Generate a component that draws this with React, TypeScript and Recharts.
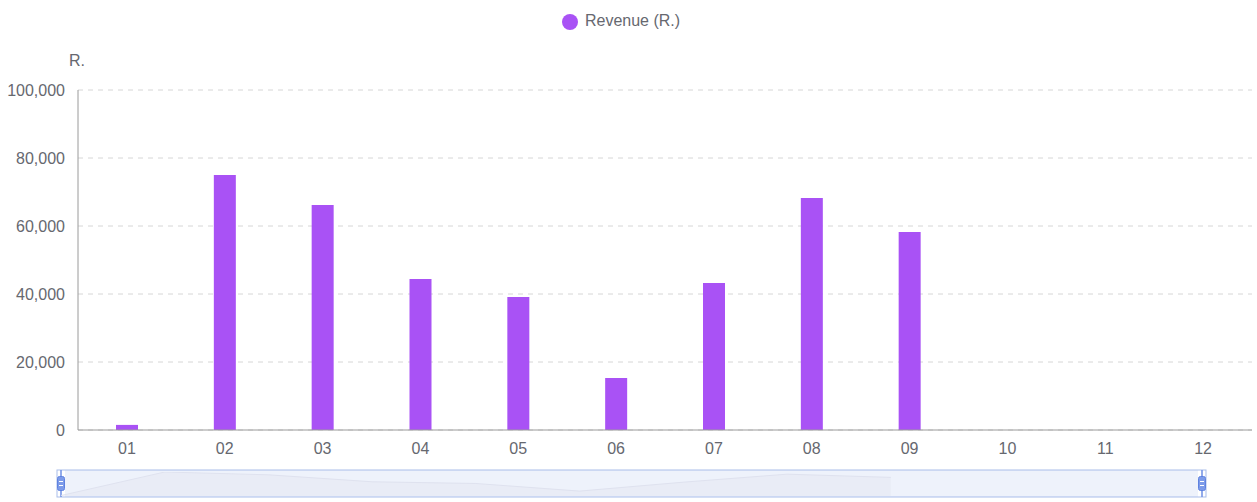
import React from "react";
import {
  BarChart,
  Bar,
  XAxis,
  YAxis,
  CartesianGrid,
  Legend,
  Brush,
  AreaChart,
  Area,
} from "recharts";

const months = ["01", "02", "03", "04", "05", "06", "07", "08", "09", "10", "11", "12"];
const revenue: (number | null)[] = [
  1500, 75000, 66200, 44400, 39100, 15300, 43200, 68200, 58200, null, null, null,
];
const yTicks = [0, 20000, 40000, 60000, 80000, 100000];

const data = months.map((month, i) => ({ month, revenue: revenue[i] }));

const FONT = "'Liberation Sans', Arial, Helvetica, sans-serif";
const TEXT = "#66686f";
const PURPLE = "#a952f5";

function Handle(props: any) {
  const { x, y, width, height } = props;
  const cx = x + width / 2;
  const cy = y + height / 2;
  return (
    <g>
      <line x1={cx} x2={cx} y1={y} y2={y + height} stroke="#6f8fe4" strokeWidth={1.5} />
      <rect x={cx - 3.5} y={cy - 7} width={7} height={14} rx={2} fill="#7d9be9" stroke="#5f82e0" />
      <line x1={cx - 2} x2={cx + 2} y1={cy - 2} y2={cy - 2} stroke="#fff" />
      <line x1={cx - 2} x2={cx + 2} y1={cy + 2} y2={cy + 2} stroke="#fff" />
    </g>
  );
}

export default function App() {
  return (
    <div
      style={{
        position: "absolute",
        left: 0,
        top: 0,
        width: 1257,
        height: 502,
        background: "#fff",
        fontFamily: FONT,
      }}
    >
      <div
        style={{
          position: "absolute",
          left: 69,
          top: 51,
          fontSize: 16,
          color: TEXT,
          lineHeight: "20px",
        }}
      >
        R.
      </div>
      <BarChart
        width={1257}
        height={502}
        data={data}
        margin={{ top: 60, right: 5, left: 0, bottom: 15 }}
      >
        <Legend
          verticalAlign="top"
          align="center"
          height={30}
          iconType="circle"
          iconSize={16}
          wrapperStyle={{ top: 12, fontSize: 16, fontFamily: FONT }}
          formatter={(value) => <span style={{ color: TEXT, marginLeft: 3 }}>{value}</span>}
        />
        <CartesianGrid vertical={false} stroke="#d6d6d6" strokeDasharray="5 5" />
        <XAxis
          dataKey="month"
          tickLine={false}
          tickSize={0}
          tickMargin={13}
          axisLine={{ stroke: "#9a9a9a" }}
          tick={{ fill: TEXT, fontSize: 16, fontFamily: FONT }}
          interval={0}
        />
        <YAxis
          width={78}
          domain={[0, 100000]}
          ticks={yTicks}
          tickLine={false}
          tickSize={0}
          tickMargin={13}
          axisLine={{ stroke: "#9a9a9a" }}
          tick={{ fill: TEXT, fontSize: 16, fontFamily: FONT }}
          tickFormatter={(v: number) => v.toLocaleString("en-US")}
        />
        <Bar
          dataKey="revenue"
          name="Revenue (R.)"
          fill={PURPLE}
          barSize={22}
          isAnimationActive={false}
        />
        <Brush
          dataKey="month"
          x={57}
          y={470}
          width={1149}
          height={27}
          travellerWidth={8}
          stroke="#a9bdea"
          fill="#ffffff"
          traveller={<Handle />}
          tickFormatter={() => ""}
        />
      </BarChart>
      {/* data shadow inside the slider */}
      <div style={{ position: "absolute", left: 61, top: 472, pointerEvents: "none" }}>
        <AreaChart width={1141} height={24} data={data} margin={{ top: 0, right: 0, left: 0, bottom: 0 }}>
          <XAxis dataKey="month" hide padding={{ left: 0, right: 0 }} />
          <YAxis hide domain={[0, "dataMax"]} />
          <Area
            dataKey="revenue"
            type="linear"
            stroke="#dfe2ef"
            fill="#d2d2e4"
            fillOpacity={0.18}
            isAnimationActive={false}
          />
        </AreaChart>
      </div>
    </div>
  );
}
